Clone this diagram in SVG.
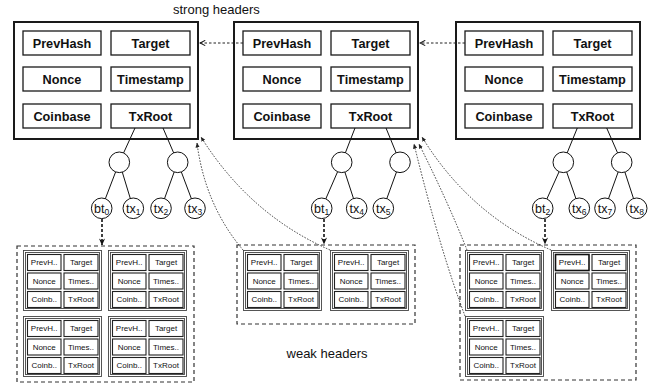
<svg xmlns="http://www.w3.org/2000/svg" width="657" height="385" viewBox="0 0 657 385">
<defs>
<style>
text{font-family:"Liberation Sans",Arial,Helvetica,sans-serif;fill:#111}
.outer{fill:#fff;stroke:#1a1a1a;stroke-width:2}
.fld{fill:#fff;stroke:#1a1a1a;stroke-width:1.3}
.ft{font-size:12.7px;font-weight:bold;text-anchor:middle}
.sob{fill:#fff;stroke:#444;stroke-width:0.9}
.so{fill:none;stroke:#444;stroke-width:0.9}
.sf{fill:#fff;stroke:#222;stroke-width:1.1}
.sfh{fill:#fff;stroke:#111;stroke-width:1.6}
.st{font-size:8px;text-anchor:middle}
.grp{fill:none;stroke:#333;stroke-width:1.2;stroke-dasharray:4 3}
.tree{stroke:#111;stroke-width:1;fill:none}
.node{fill:#fff;stroke:#111;stroke-width:1}
.lt{font-size:12.5px;text-anchor:middle}
.sub{font-size:8.5px}
.bta{stroke:#111;stroke-width:1.6;stroke-dasharray:3 2;fill:none}
.dot{stroke:#222;stroke-width:0.9;stroke-dasharray:1.5 1.5;fill:none}
.hz{stroke:#222;stroke-width:1;stroke-dasharray:2.5 2;fill:none}
.lbl{font-size:13px}
</style>
<marker id="ah" viewBox="0 0 8 8" refX="7.5" refY="4" markerWidth="7" markerHeight="7" markerUnits="userSpaceOnUse" orient="auto">
<path d="M0,0.5 L8,4 L0,7.5 L2.5,4 z" fill="#111"/>
</marker>
<marker id="ch" viewBox="0 0 8 8" refX="7" refY="4" markerWidth="7" markerHeight="7" markerUnits="userSpaceOnUse" orient="auto">
<path d="M1,1 L7,4 L1,7" fill="none" stroke="#111" stroke-width="1.2"/>
</marker>
<marker id="sm" viewBox="0 0 6 6" refX="5.5" refY="3" markerWidth="5" markerHeight="5" markerUnits="userSpaceOnUse" orient="auto">
<path d="M0,0.5 L6,3 L0,5.5 z" fill="#222"/>
</marker>
</defs>
<rect width="657" height="385" fill="#fff"/>

<text class="lbl" x="173" y="13.5">strong headers</text>
<text class="lbl" x="327" y="358" text-anchor="middle">weak headers</text>

<!-- strong headers -->
<g id="strong0" transform="translate(14,22)">
<rect class="outer" x="0" y="0" width="184" height="117"/>
<rect class="fld" x="9" y="9" width="78" height="24"/><text class="ft" x="48" y="25.5">PrevHash</text>
<rect class="fld" x="97" y="9" width="79" height="24"/><text class="ft" x="136.5" y="25.5">Target</text>
<rect class="fld" x="9" y="45" width="78" height="24"/><text class="ft" x="48" y="61.5">Nonce</text>
<rect class="fld" x="97" y="45" width="79" height="24"/><text class="ft" x="136.5" y="61.5">Timestamp</text>
<rect class="fld" x="9" y="82" width="78" height="24"/><text class="ft" x="48" y="98.5">Coinbase</text>
<rect class="fld" x="97" y="82" width="79" height="24"/><text class="ft" x="136.5" y="98.5">TxRoot</text>
</g>
<g id="strong1" transform="translate(234,22)">
<rect class="outer" x="0" y="0" width="184" height="117"/>
<rect class="fld" x="9" y="9" width="78" height="24"/><text class="ft" x="48" y="25.5">PrevHash</text>
<rect class="fld" x="97" y="9" width="79" height="24"/><text class="ft" x="136.5" y="25.5">Target</text>
<rect class="fld" x="9" y="45" width="78" height="24"/><text class="ft" x="48" y="61.5">Nonce</text>
<rect class="fld" x="97" y="45" width="79" height="24"/><text class="ft" x="136.5" y="61.5">Timestamp</text>
<rect class="fld" x="9" y="82" width="78" height="24"/><text class="ft" x="48" y="98.5">Coinbase</text>
<rect class="fld" x="97" y="82" width="79" height="24"/><text class="ft" x="136.5" y="98.5">TxRoot</text>
</g>
<g id="strong2" transform="translate(456,22)">
<rect class="outer" x="0" y="0" width="184" height="117"/>
<rect class="fld" x="9" y="9" width="78" height="24"/><text class="ft" x="48" y="25.5">PrevHash</text>
<rect class="fld" x="97" y="9" width="79" height="24"/><text class="ft" x="136.5" y="25.5">Target</text>
<rect class="fld" x="9" y="45" width="78" height="24"/><text class="ft" x="48" y="61.5">Nonce</text>
<rect class="fld" x="97" y="45" width="79" height="24"/><text class="ft" x="136.5" y="61.5">Timestamp</text>
<rect class="fld" x="9" y="82" width="78" height="24"/><text class="ft" x="48" y="98.5">Coinbase</text>
<rect class="fld" x="97" y="82" width="79" height="24"/><text class="ft" x="136.5" y="98.5">TxRoot</text>
</g>

<!-- weak header groups -->
<g id="weakgroup0">
<rect class="grp" x="17" y="246" width="177" height="136"/>
</g>
<g id="weakgroup1">
<rect class="grp" x="237" y="245" width="178" height="79"/>
</g>
<g id="weakgroup2">
<rect class="grp" x="460" y="245" width="176" height="135"/>
</g>

<g id="weak0a" transform="translate(23,250)">
<rect class="sob" x="0.5" y="0.5" width="78" height="60"/><rect class="so" x="2.5" y="2.5" width="74" height="56"/>
<rect class="sf" x="4.5" y="4.5" width="33.5" height="16"/><text class="st" x="21.2" y="15.3">PrevH..</text>
<rect class="sf" x="41" y="4.5" width="34" height="16"/><text class="st" x="58" y="15.3">Target</text>
<rect class="sf" x="4.5" y="23" width="33.5" height="16"/><text class="st" x="21.2" y="33.8">Nonce</text>
<rect class="sf" x="41" y="23" width="34" height="16"/><text class="st" x="58" y="33.8">Times..</text>
<rect class="sf" x="4.5" y="41.5" width="33.5" height="16"/><text class="st" x="21.2" y="52.3">Coinb..</text>
<rect class="sf" x="41" y="41.5" width="34" height="16"/><text class="st" x="58" y="52.3">TxRoot</text>
</g>
<g id="weak0b" transform="translate(108,250)">
<rect class="sob" x="0.5" y="0.5" width="78" height="60"/><rect class="so" x="2.5" y="2.5" width="74" height="56"/>
<rect class="sf" x="4.5" y="4.5" width="33.5" height="16"/><text class="st" x="21.2" y="15.3">PrevH..</text>
<rect class="sf" x="41" y="4.5" width="34" height="16"/><text class="st" x="58" y="15.3">Target</text>
<rect class="sf" x="4.5" y="23" width="33.5" height="16"/><text class="st" x="21.2" y="33.8">Nonce</text>
<rect class="sf" x="41" y="23" width="34" height="16"/><text class="st" x="58" y="33.8">Times..</text>
<rect class="sf" x="4.5" y="41.5" width="33.5" height="16"/><text class="st" x="21.2" y="52.3">Coinb..</text>
<rect class="sf" x="41" y="41.5" width="34" height="16"/><text class="st" x="58" y="52.3">TxRoot</text>
</g>
<g id="weak0c" transform="translate(23,316)">
<rect class="sob" x="0.5" y="0.5" width="78" height="60"/><rect class="so" x="2.5" y="2.5" width="74" height="56"/>
<rect class="sf" x="4.5" y="4.5" width="33.5" height="16"/><text class="st" x="21.2" y="15.3">PrevH..</text>
<rect class="sf" x="41" y="4.5" width="34" height="16"/><text class="st" x="58" y="15.3">Target</text>
<rect class="sf" x="4.5" y="23" width="33.5" height="16"/><text class="st" x="21.2" y="33.8">Nonce</text>
<rect class="sf" x="41" y="23" width="34" height="16"/><text class="st" x="58" y="33.8">Times..</text>
<rect class="sf" x="4.5" y="41.5" width="33.5" height="16"/><text class="st" x="21.2" y="52.3">Coinb..</text>
<rect class="sf" x="41" y="41.5" width="34" height="16"/><text class="st" x="58" y="52.3">TxRoot</text>
</g>
<g id="weak0d" transform="translate(108,316)">
<rect class="sob" x="0.5" y="0.5" width="78" height="60"/><rect class="so" x="2.5" y="2.5" width="74" height="56"/>
<rect class="sf" x="4.5" y="4.5" width="33.5" height="16"/><text class="st" x="21.2" y="15.3">PrevH..</text>
<rect class="sf" x="41" y="4.5" width="34" height="16"/><text class="st" x="58" y="15.3">Target</text>
<rect class="sf" x="4.5" y="23" width="33.5" height="16"/><text class="st" x="21.2" y="33.8">Nonce</text>
<rect class="sf" x="41" y="23" width="34" height="16"/><text class="st" x="58" y="33.8">Times..</text>
<rect class="sf" x="4.5" y="41.5" width="33.5" height="16"/><text class="st" x="21.2" y="52.3">Coinb..</text>
<rect class="sf" x="41" y="41.5" width="34" height="16"/><text class="st" x="58" y="52.3">TxRoot</text>
</g>
<g id="weak1a" transform="translate(243,250)">
<rect class="sob" x="0.5" y="0.5" width="78" height="60"/><rect class="so" x="2.5" y="2.5" width="74" height="56"/>
<rect class="sf" x="4.5" y="4.5" width="33.5" height="16"/><text class="st" x="21.2" y="15.3">PrevH..</text>
<rect class="sf" x="41" y="4.5" width="34" height="16"/><text class="st" x="58" y="15.3">Target</text>
<rect class="sf" x="4.5" y="23" width="33.5" height="16"/><text class="st" x="21.2" y="33.8">Nonce</text>
<rect class="sf" x="41" y="23" width="34" height="16"/><text class="st" x="58" y="33.8">Times..</text>
<rect class="sf" x="4.5" y="41.5" width="33.5" height="16"/><text class="st" x="21.2" y="52.3">Coinb..</text>
<rect class="sf" x="41" y="41.5" width="34" height="16"/><text class="st" x="58" y="52.3">TxRoot</text>
</g>
<g id="weak1b" transform="translate(330,250)">
<rect class="sob" x="0.5" y="0.5" width="78" height="60"/><rect class="so" x="2.5" y="2.5" width="74" height="56"/>
<rect class="sf" x="4.5" y="4.5" width="33.5" height="16"/><text class="st" x="21.2" y="15.3">PrevH..</text>
<rect class="sf" x="41" y="4.5" width="34" height="16"/><text class="st" x="58" y="15.3">Target</text>
<rect class="sf" x="4.5" y="23" width="33.5" height="16"/><text class="st" x="21.2" y="33.8">Nonce</text>
<rect class="sf" x="41" y="23" width="34" height="16"/><text class="st" x="58" y="33.8">Times..</text>
<rect class="sf" x="4.5" y="41.5" width="33.5" height="16"/><text class="st" x="21.2" y="52.3">Coinb..</text>
<rect class="sf" x="41" y="41.5" width="34" height="16"/><text class="st" x="58" y="52.3">TxRoot</text>
</g>
<g id="weak2a" transform="translate(465,250)">
<rect class="sob" x="0.5" y="0.5" width="78" height="60"/><rect class="so" x="2.5" y="2.5" width="74" height="56"/>
<rect class="sf" x="4.5" y="4.5" width="33.5" height="16"/><text class="st" x="21.2" y="15.3">PrevH..</text>
<rect class="sf" x="41" y="4.5" width="34" height="16"/><text class="st" x="58" y="15.3">Target</text>
<rect class="sf" x="4.5" y="23" width="33.5" height="16"/><text class="st" x="21.2" y="33.8">Nonce</text>
<rect class="sf" x="41" y="23" width="34" height="16"/><text class="st" x="58" y="33.8">Times..</text>
<rect class="sf" x="4.5" y="41.5" width="33.5" height="16"/><text class="st" x="21.2" y="52.3">Coinb..</text>
<rect class="sf" x="41" y="41.5" width="34" height="16"/><text class="st" x="58" y="52.3">TxRoot</text>
</g>
<g id="weak2b" transform="translate(551,250)">
<rect class="sob" x="0.5" y="0.5" width="78" height="60"/><rect class="so" x="2.5" y="2.5" width="74" height="56"/>
<rect class="sfh" x="4.5" y="4.5" width="33.5" height="16"/><text class="st" x="21.2" y="15.3">PrevH..</text>
<rect class="sf" x="41" y="4.5" width="34" height="16"/><text class="st" x="58" y="15.3">Target</text>
<rect class="sf" x="4.5" y="23" width="33.5" height="16"/><text class="st" x="21.2" y="33.8">Nonce</text>
<rect class="sf" x="41" y="23" width="34" height="16"/><text class="st" x="58" y="33.8">Times..</text>
<rect class="sf" x="4.5" y="41.5" width="33.5" height="16"/><text class="st" x="21.2" y="52.3">Coinb..</text>
<rect class="sf" x="41" y="41.5" width="34" height="16"/><text class="st" x="58" y="52.3">TxRoot</text>
</g>
<g id="weak2c" transform="translate(465,316)">
<rect class="sob" x="0.5" y="0.5" width="78" height="60"/><rect class="so" x="2.5" y="2.5" width="74" height="56"/>
<rect class="sf" x="4.5" y="4.5" width="33.5" height="16"/><text class="st" x="21.2" y="15.3">PrevH..</text>
<rect class="sf" x="41" y="4.5" width="34" height="16"/><text class="st" x="58" y="15.3">Target</text>
<rect class="sf" x="4.5" y="23" width="33.5" height="16"/><text class="st" x="21.2" y="33.8">Nonce</text>
<rect class="sf" x="41" y="23" width="34" height="16"/><text class="st" x="58" y="33.8">Times..</text>
<rect class="sf" x="4.5" y="41.5" width="33.5" height="16"/><text class="st" x="21.2" y="52.3">Coinb..</text>
<rect class="sf" x="41" y="41.5" width="34" height="16"/><text class="st" x="58" y="52.3">TxRoot</text>
</g>

<!-- connectors -->
<g id="connectors">
<path class="tree" d="M135,128 L119.3,162.3 M163,128 L177.7,162.3 M119.3,162.3 L101.7,208.3 M119.3,162.3 L133.3,208.3 M177.7,162.3 L161,208.3 M177.7,162.3 L195,208.3"/>
<path class="tree" d="M355,128 L341.7,162.3 M386,128 L400,162.3 M341.7,162.3 L321.7,208.3 M341.7,162.3 L356.7,208.3 M400,162.3 L383.3,208.3"/>
<path class="tree" d="M577.3,128 L563.3,162.3 M606.7,128 L621.7,162.3 M563.3,162.3 L542.7,208.3 M563.3,162.3 L579.3,208.3 M621.7,162.3 L605,208.3 M621.7,162.3 L636.7,208.3"/>
<path class="hz" d="M243,43 L200,43" marker-end="url(#ch)"/>
<path class="hz" d="M465,43 L420,43" marker-end="url(#ch)"/>
<path class="bta" d="M102,219 L102,245" marker-end="url(#ah)"/>
<path class="bta" d="M324,219 L324,244" marker-end="url(#ah)"/>
<path class="bta" d="M545,219 L545,244" marker-end="url(#ah)"/>
<path class="dot" d="M243,250 Q205,205 197,143" marker-end="url(#sm)"/>
<path class="dot" d="M330,250 Q250,215 201,137" marker-end="url(#sm)"/>
<path class="dot" d="M467,250 Q448,202 419,144" marker-end="url(#sm)"/>
<path class="dot" d="M465,316 Q440,250 414,144" marker-end="url(#sm)"/>
<path class="dot" d="M551,250 Q470,215 422,137" marker-end="url(#sm)"/>
</g>

<!-- tree nodes -->
<g id="m0a"><circle class="node" cx="119.3" cy="162.3" r="10.3"/></g>
<g id="m0b"><circle class="node" cx="177.7" cy="162.3" r="10.3"/></g>
<g id="bt0"><circle class="node" cx="101.7" cy="208.3" r="10.3"/><text class="lt" x="101.7" y="212.5">bt<tspan class="sub" dy="2">0</tspan></text></g>
<g id="tx1"><circle class="node" cx="133.3" cy="208.3" r="10.3"/><text class="lt" x="133.3" y="212.5">tx<tspan class="sub" dy="2">1</tspan></text></g>
<g id="tx2"><circle class="node" cx="161" cy="208.3" r="10.3"/><text class="lt" x="161" y="212.5">tx<tspan class="sub" dy="2">2</tspan></text></g>
<g id="tx3"><circle class="node" cx="195" cy="208.3" r="10.3"/><text class="lt" x="195" y="212.5">tx<tspan class="sub" dy="2">3</tspan></text></g>

<g id="m1a"><circle class="node" cx="341.7" cy="162.3" r="10.3"/></g>
<g id="m1b"><circle class="node" cx="400" cy="162.3" r="10.3"/></g>
<g id="bt1"><circle class="node" cx="321.7" cy="208.3" r="10.3"/><text class="lt" x="321.7" y="212.5">bt<tspan class="sub" dy="2">1</tspan></text></g>
<g id="tx4"><circle class="node" cx="356.7" cy="208.3" r="10.3"/><text class="lt" x="356.7" y="212.5">tx<tspan class="sub" dy="2">4</tspan></text></g>
<g id="tx5"><circle class="node" cx="383.3" cy="208.3" r="10.3"/><text class="lt" x="383.3" y="212.5">tx<tspan class="sub" dy="2">5</tspan></text></g>

<g id="m2a"><circle class="node" cx="563.3" cy="162.3" r="10.3"/></g>
<g id="m2b"><circle class="node" cx="621.7" cy="162.3" r="10.3"/></g>
<g id="bt2"><circle class="node" cx="542.7" cy="208.3" r="10.3"/><text class="lt" x="542.7" y="212.5">bt<tspan class="sub" dy="2">2</tspan></text></g>
<g id="tx6"><circle class="node" cx="579.3" cy="208.3" r="10.3"/><text class="lt" x="579.3" y="212.5">tx<tspan class="sub" dy="2">6</tspan></text></g>
<g id="tx7"><circle class="node" cx="605" cy="208.3" r="10.3"/><text class="lt" x="605" y="212.5">tx<tspan class="sub" dy="2">7</tspan></text></g>
<g id="tx8"><circle class="node" cx="636.7" cy="208.3" r="10.3"/><text class="lt" x="636.7" y="212.5">tx<tspan class="sub" dy="2">8</tspan></text></g>
</svg>
